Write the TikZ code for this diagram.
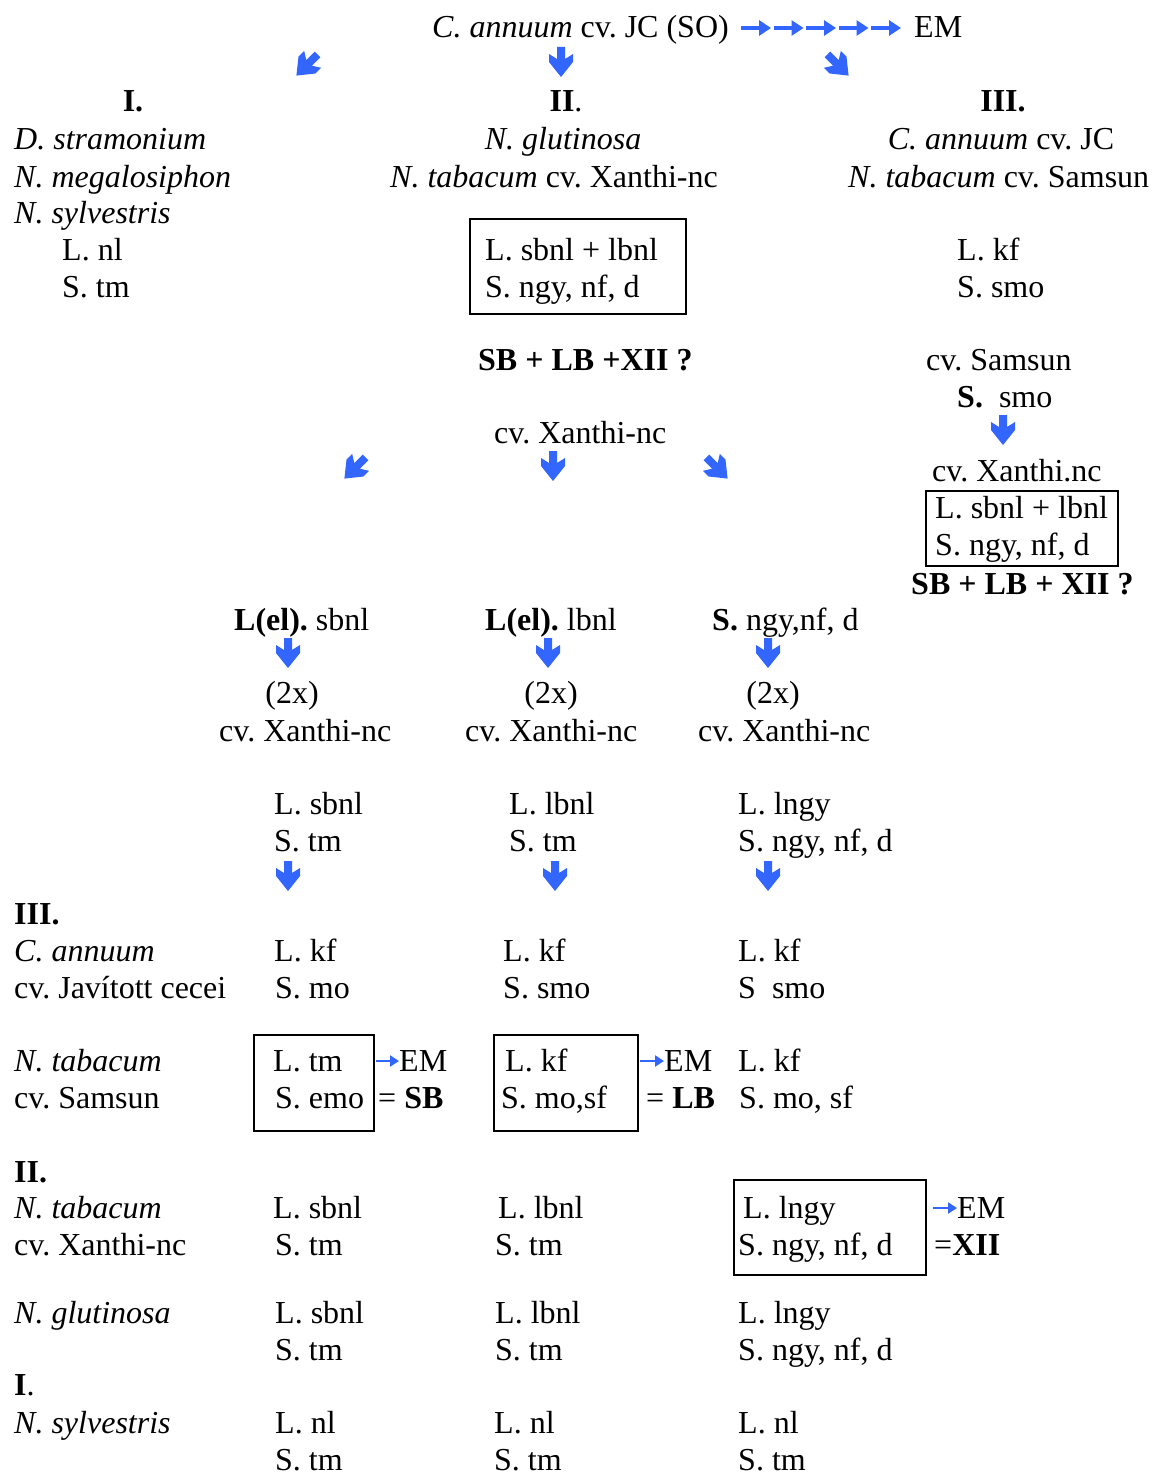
\documentclass[tikz,border=0pt]{standalone}
\usepackage{fontspec}
\setmainfont{Liberation Serif}
\usetikzlibrary{arrows.meta}
\definecolor{ablue}{RGB}{51,102,255}
\frenchspacing
\begin{document}
\begin{tikzpicture}[x=1pt,y=-1pt,
 t/.style={anchor=base west,inner sep=0pt,font=\fontsize{32}{37}\selectfont\frenchspacing},
 tc/.style={t,anchor=base},
 bx/.style={draw,line width=1.8pt,anchor=north west,inner sep=0pt},
 fat/.pic={\fill[ablue] (-4,-15)--(4,-15)--(4,-3)--(12,-8)--(12,0)--(0,15)--(-12,0)--(-12,-8)--(-4,-3)--cycle;},
 sarr/.style={draw=ablue,line width=3.6pt,-{Triangle[length=12pt,width=15pt]}},
 earr/.style={draw=ablue,line width=2.4pt,-{Triangle[length=9pt,width=11pt]}}]
\useasboundingbox (0,0) rectangle (1154,1474);

% top line
\node[t] (top) at (432,38) {\textit{C. annuum} cv. JC (SO)};
\node[t] (em0) at (914,38) {EM};
\foreach \i in {0,...,4}{\draw[sarr] (741+32.5*\i,28) -- (771+32.5*\i,28);}
\pic[rotate=-45] at (307,65) {fat};
\pic at (561,62) {fat};
\pic[rotate=45] at (838,65) {fat};

% headings
\node[tc] (h1) at (133,112) {\textbf{I.}};
\node[tc] (h2) at (566,112) {\textbf{II}.};
\node[tc] (h3) at (1003,112) {\textbf{III.}};

% group I
\node[t] (g1a) at (14,150) {\textit{D. stramonium}};
\node[t] (g1b) at (14,187) {\textit{N. megalosiphon}};
\node[t] (g1c) at (14,223) {\textit{N. sylvestris}};
\node[t] (g1l) at (62,260) {L. nl};
\node[t] (g1s) at (62,297) {S. tm};

% group II
\node[tc] (g2a) at (563,150) {\textit{N. glutinosa}};
\node[t] (g2b) at (390,187) {\textit{N. tabacum} cv. Xanthi-nc};
\node[bx,minimum width=216,minimum height=95] (box1) at (469,218) {};
\node[t] (g2l) at (485,260) {L. sbnl + lbnl};
\node[t] (g2s) at (485,297) {S. ngy, nf, d};
\node[t] (q1) at (478,370) {\textbf{SB + LB +XII ?}};
\node[t] (cvx) at (494,443) {cv. Xanthi-nc};
\pic[rotate=-45] at (355,468) {fat};
\pic at (553,466) {fat};
\pic[rotate=45] at (717,468) {fat};

% group III
\node[tc] (g3a) at (1001,150) {\textit{C. annuum} cv. JC};
\node[t] (g3b) at (848,187) {\textit{N. tabacum} cv. Samsun};
\node[t] (g3l) at (957,260) {L. kf};
\node[t] (g3s) at (957,297) {S. smo};
\node[t] (sam) at (926,370) {cv. Samsun};
\node[t] (sams) at (957,407) {\textbf{S.}\ \ smo};
\pic at (1003,430) {fat};
\node[t] (xnc) at (932,481) {cv. Xanthi.nc};
\node[bx,minimum width=192,minimum height=75] (box2) at (925,490) {};
\node[t] (b2l) at (935,518) {L. sbnl + lbnl};
\node[t] (b2s) at (935,555) {S. ngy, nf, d};
\node[t] (q2) at (911,594) {\textbf{SB + LB + XII ?}};

% three branches
\node[t] (e1) at (234,630) {\textbf{L(el).} sbnl};
\node[t] (e2) at (485,630) {\textbf{L(el).} lbnl};
\node[t] (e3) at (712,630) {\textbf{S.} ngy,nf, d};
\pic at (288,653) {fat};
\pic at (548,653) {fat};
\pic at (768,653) {fat};
\node[tc] (x1) at (292,703) {(2x)};
\node[tc] (x2) at (551,703) {(2x)};
\node[tc] (x3) at (773,703) {(2x)};
\node[t] (c1) at (219,741) {cv. Xanthi-nc};
\node[t] (c2) at (465,741) {cv. Xanthi-nc};
\node[t] (c3) at (698,741) {cv. Xanthi-nc};
\node[t] (r1l) at (274,814) {L. sbnl};
\node[t] (r2l) at (509,814) {L. lbnl};
\node[t] (r3l) at (738,814) {L. lngy};
\node[t] (r1s) at (274,851) {S. tm};
\node[t] (r2s) at (509,851) {S. tm};
\node[t] (r3s) at (738,851) {S. ngy, nf, d};
\pic at (288,876) {fat};
\pic at (555,876) {fat};
\pic at (768,876) {fat};

% III. C. annuum
\node[t] (H3) at (14,924) {\textbf{III.}};
\node[t] (ca) at (14,961) {\textit{C. annuum}};
\node[t] (caj) at (14,998) {cv. Javított cecei};
\node[t] (k1l) at (274,961) {L. kf};
\node[t] (k2l) at (503,961) {L. kf};
\node[t] (k3l) at (738,961) {L. kf};
\node[t] (k1s) at (275,998) {S. mo};
\node[t] (k2s) at (503,998) {S. smo};
\node[t] (k3s) at (738,998) {S\ \ smo};

% N. tabacum cv. Samsun
\node[t] (nt) at (14,1071) {\textit{N. tabacum}};
\node[t] (nts) at (14,1108) {cv. Samsun};
\node[bx,minimum width=120,minimum height=96] (box3) at (253,1034) {};
\node[t] (s1l) at (273,1071) {L. tm};
\node[t] (s1s) at (275,1108) {S. emo};
\node[t] (em1) at (399,1071) {EM};
\draw[earr] (376,1061) -- (399,1061);
\node[t] (sb) at (378,1108) {= \textbf{SB}};
\node[bx,minimum width=144,minimum height=96] (box4) at (493,1034) {};
\node[t] (s2l) at (505,1071) {L. kf};
\node[t] (s2s) at (501,1108) {S. mo,sf};
\node[t] (em2) at (664,1071) {EM};
\draw[earr] (640,1061) -- (664,1061);
\node[t] (lb) at (646,1108) {= \textbf{LB}};
\node[t] (s3l) at (738,1071) {L. kf};
\node[t] (s3s) at (739,1108) {S. mo, sf};

% II.
\node[t] (H2) at (14,1182) {\textbf{II.}};
\node[t] (ntx) at (14,1218) {\textit{N. tabacum}};
\node[t] (ntxc) at (14,1255) {cv. Xanthi-nc};
\node[t] (t1l) at (273,1218) {L. sbnl};
\node[t] (t2l) at (498,1218) {L. lbnl};
\node[bx,minimum width=192,minimum height=95] (box5) at (733,1179) {};
\node[t] (t3l) at (743,1218) {L. lngy};
\node[t] (em3) at (957,1218) {EM};
\draw[earr] (933,1208) -- (957,1208);
\node[t] (t1s) at (275,1255) {S. tm};
\node[t] (t2s) at (495,1255) {S. tm};
\node[t] (t3s) at (738,1255) {S. ngy, nf, d};
\node[t] (xii) at (934,1255) {=\textbf{XII}};

\node[t] (ng) at (14,1323) {\textit{N. glutinosa}};
\node[t] (u1l) at (275,1323) {L. sbnl};
\node[t] (u2l) at (495,1323) {L. lbnl};
\node[t] (u3l) at (738,1323) {L. lngy};
\node[t] (u1s) at (275,1360) {S. tm};
\node[t] (u2s) at (495,1360) {S. tm};
\node[t] (u3s) at (738,1360) {S. ngy, nf, d};

% I.
\node[t] (H1) at (14,1395) {\textbf{I}.};
\node[t] (ns) at (14,1433) {\textit{N. sylvestris}};
\node[t] (v1l) at (275,1433) {L. nl};
\node[t] (v2l) at (494,1433) {L. nl};
\node[t] (v3l) at (738,1433) {L. nl};
\node[t] (v1s) at (275,1470) {S. tm};
\node[t] (v2s) at (494,1470) {S. tm};
\node[t] (v3s) at (738,1470) {S. tm};
\end{tikzpicture}
\end{document}
